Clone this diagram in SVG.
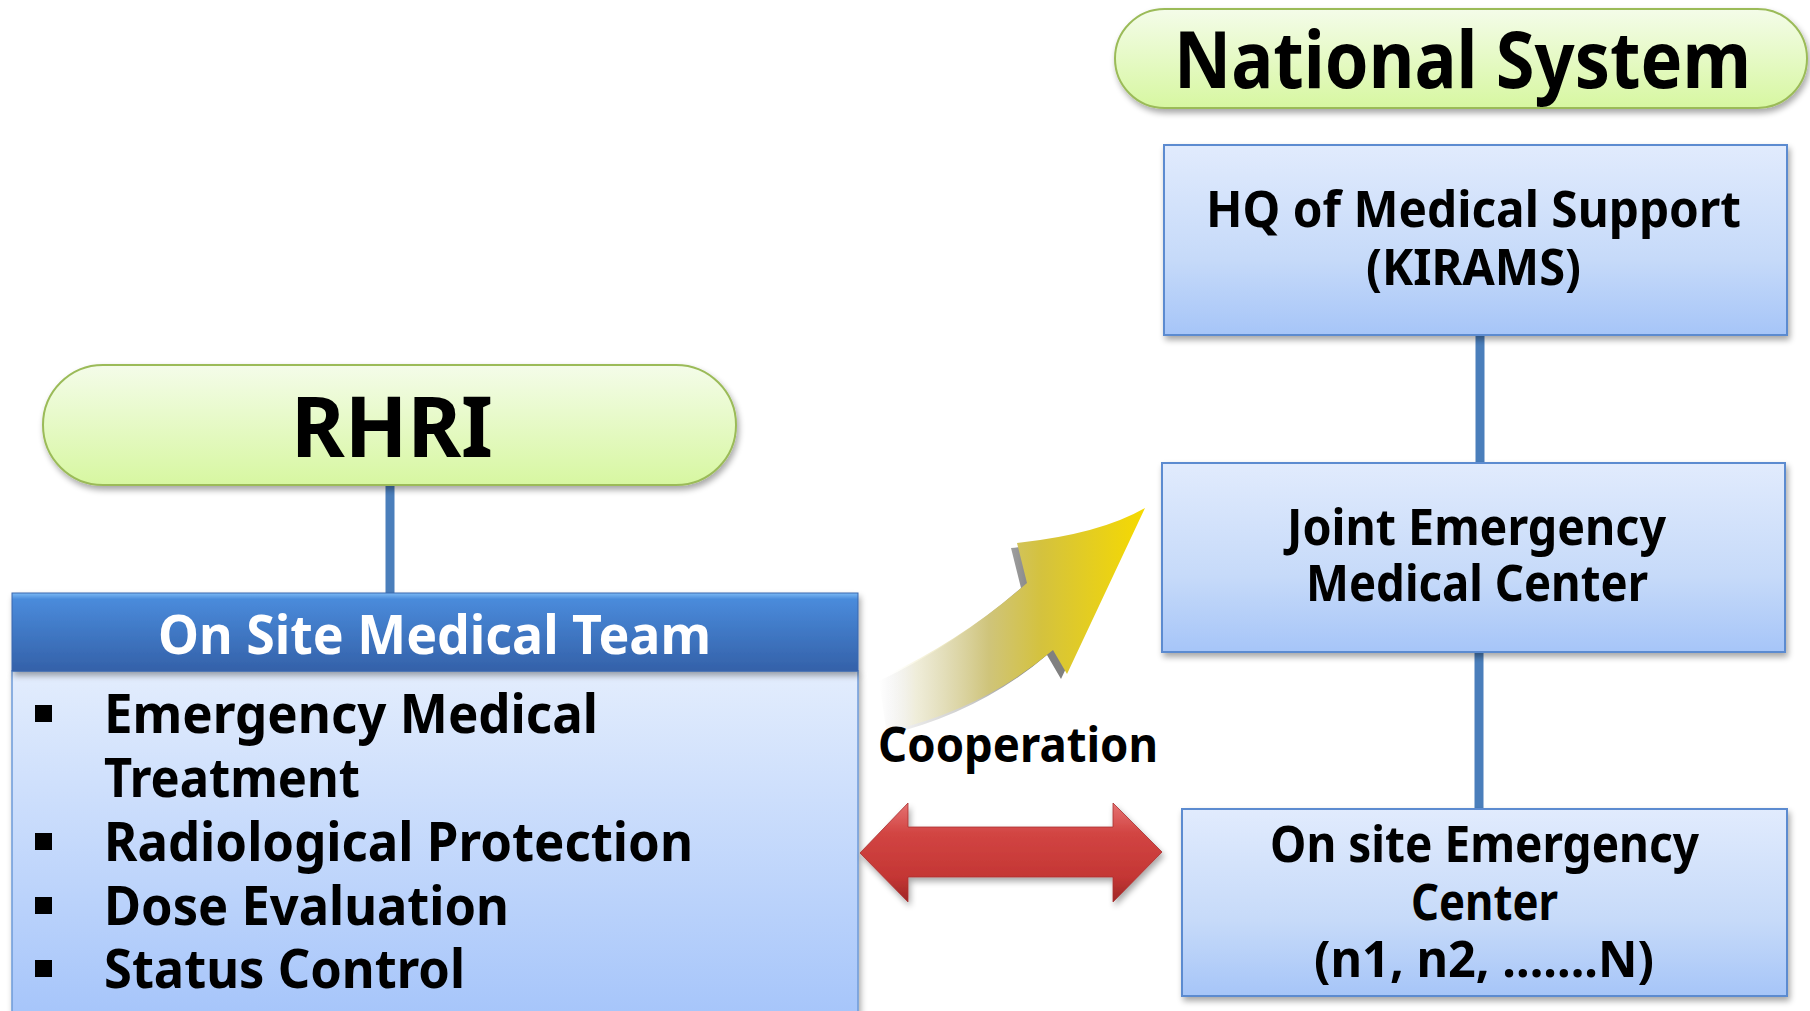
<svg xmlns="http://www.w3.org/2000/svg" width="1810" height="1011" viewBox="0 0 1810 1011">
<defs>
<style>
.t{font-family:"Noto Sans","Open Sans","Liberation Sans",sans-serif;font-weight:bold;fill:#000}
.w{fill:#fff}
.pill{fill:url(#gPill);stroke:#9bbb59;stroke-width:2}
.box{fill:url(#gBox);stroke:#5b8bd0;stroke-width:2}
.con{stroke:#4a7ebb;stroke-width:9;fill:none}
</style>
<linearGradient id="gPill" x1="0" y1="0" x2="0" y2="1">
<stop offset="0" stop-color="#f4fce9"/><stop offset="1" stop-color="#d7f7a1"/>
</linearGradient>
<linearGradient id="gBox" x1="0" y1="0" x2="0" y2="1">
<stop offset="0" stop-color="#e1ebfd"/><stop offset="0.6" stop-color="#c6daf9"/><stop offset="1" stop-color="#a6c5f8"/>
</linearGradient>
<linearGradient id="gBody" x1="0" y1="0" x2="0" y2="1">
<stop offset="0" stop-color="#e3edfd"/><stop offset="1" stop-color="#a6c5fa"/>
</linearGradient>
<linearGradient id="gHead" x1="0" y1="0" x2="0" y2="1">
<stop offset="0" stop-color="#7cbaf5"/><stop offset="0.08" stop-color="#4a8bdb"/><stop offset="1" stop-color="#3461a9"/>
</linearGradient>
<linearGradient id="gRed" x1="0" y1="0" x2="0" y2="1">
<stop offset="0" stop-color="#e57272"/><stop offset="0.3" stop-color="#d24543"/><stop offset="0.75" stop-color="#c43634"/><stop offset="1" stop-color="#9e2626"/>
</linearGradient>
<linearGradient id="gYel" gradientUnits="userSpaceOnUse" x1="885" y1="0" x2="1145" y2="0">
<stop offset="0" stop-color="#ffffff" stop-opacity="0"/>
<stop offset="0.12" stop-color="#f4f0d0" stop-opacity="0.6"/>
<stop offset="0.4" stop-color="#cfc47a"/>
<stop offset="0.6" stop-color="#d4c23e"/>
<stop offset="1" stop-color="#f6da00"/>
</linearGradient>
<linearGradient id="gShd" gradientUnits="userSpaceOnUse" x1="885" y1="0" x2="1145" y2="0">
<stop offset="0" stop-color="#888" stop-opacity="0"/>
<stop offset="0.35" stop-color="#999" stop-opacity="0.5"/>
<stop offset="0.6" stop-color="#808080"/>
<stop offset="1" stop-color="#808080"/>
</linearGradient>
<filter id="sh" x="-10%" y="-10%" width="125%" height="140%">
<feGaussianBlur in="SourceAlpha" stdDeviation="3"/>
<feOffset dx="2" dy="4"/>
<feComponentTransfer><feFuncA type="linear" slope="0.35"/></feComponentTransfer>
<feMerge><feMergeNode/><feMergeNode in="SourceGraphic"/></feMerge>
</filter>
</defs>
<rect width="1810" height="1011" fill="#fff"/>

<g id="connectors">
<line class="con" x1="1480" y1="335" x2="1480" y2="463"/>
<line class="con" x1="1479" y1="652" x2="1479" y2="809"/>
<line class="con" x1="390" y1="485" x2="390" y2="593"/>
</g>

<g id="national">
<rect class="pill" x="1115" y="9" width="692" height="99" rx="49.5" filter="url(#sh)"/>
<text class="t" x="1174" y="88" font-size="78" textLength="577" lengthAdjust="spacingAndGlyphs">National System</text>
</g>

<g id="hq">
<rect class="box" x="1164" y="145" width="623" height="190" filter="url(#sh)"/>
<text class="t" x="1206" y="227" font-size="51" textLength="535" lengthAdjust="spacingAndGlyphs">HQ of Medical Support</text>
<text class="t" x="1366" y="285" font-size="51" textLength="215" lengthAdjust="spacingAndGlyphs">(KIRAMS)</text>
</g>

<g id="joint">
<rect class="box" x="1162" y="463" width="623" height="189" filter="url(#sh)"/>
<text class="t" x="1287" y="545" font-size="51" textLength="379" lengthAdjust="spacingAndGlyphs">Joint Emergency</text>
<text class="t" x="1306" y="601" font-size="51" textLength="342" lengthAdjust="spacingAndGlyphs">Medical Center</text>
</g>

<g id="onsite">
<rect class="box" x="1182" y="809" width="605" height="187" filter="url(#sh)"/>
<text class="t" x="1270" y="862" font-size="51" textLength="429" lengthAdjust="spacingAndGlyphs">On site Emergency</text>
<text class="t" x="1411" y="920" font-size="51" textLength="147" lengthAdjust="spacingAndGlyphs">Center</text>
<text class="t" x="1314" y="977" font-size="51" textLength="340" lengthAdjust="spacingAndGlyphs">(n1, n2, .......N)</text>
</g>

<g id="rhri">
<rect class="pill" x="43" y="365" width="693" height="120" rx="60" filter="url(#sh)"/>
<text class="t" x="291" y="457" font-size="85" textLength="202" lengthAdjust="spacingAndGlyphs">RHRI</text>
</g>

<g id="team">
<rect x="12" y="671" width="846" height="345" fill="url(#gBody)" stroke="#6e9ad8" stroke-width="1.5" filter="url(#sh)"/>
<rect x="12" y="593" width="846" height="78" fill="url(#gHead)" stroke="#3a66ad" stroke-width="1" filter="url(#sh)"/>
<text class="t w" x="158" y="654" font-size="53" textLength="553" lengthAdjust="spacingAndGlyphs">On Site Medical Team</text>
<g fill="#000">
<rect x="35" y="705" width="17" height="17"/>
<rect x="35" y="833" width="17" height="17"/>
<rect x="35" y="897" width="17" height="17"/>
<rect x="35" y="960" width="17" height="17"/>
</g>
<text class="t" x="104" y="733" font-size="53" textLength="494" lengthAdjust="spacingAndGlyphs">Emergency Medical</text>
<text class="t" x="104" y="797" font-size="53" textLength="256" lengthAdjust="spacingAndGlyphs">Treatment</text>
<text class="t" x="104" y="861" font-size="53" textLength="589" lengthAdjust="spacingAndGlyphs">Radiological Protection</text>
<text class="t" x="104" y="925" font-size="53" textLength="405" lengthAdjust="spacingAndGlyphs">Dose Evaluation</text>
<text class="t" x="104" y="988" font-size="53" textLength="361" lengthAdjust="spacingAndGlyphs">Status Control</text>
</g>

<g id="cooperation">
<path d="M1145,508 Q1100,534 1017,543 L1027,583 Q962,640 885,676 L893,730 Q985,708 1053,650 L1067,674 Z" fill="url(#gShd)" transform="translate(-6,5)"/>
<path d="M1145,508 Q1100,534 1017,543 L1027,583 Q962,640 885,676 L893,730 Q985,708 1053,650 L1067,674 Z" fill="url(#gYel)"/>
<text class="t" x="878" y="762" font-size="49" textLength="280" lengthAdjust="spacingAndGlyphs">Cooperation</text>
<path d="M860,853 L908,803 L908,827 L1113,827 L1113,803 L1162,852 L1113,902 L1113,877 L908,877 L908,902 Z" fill="url(#gRed)" stroke="#a83030" stroke-width="0.8" filter="url(#sh)"/>
</g>
</svg>
